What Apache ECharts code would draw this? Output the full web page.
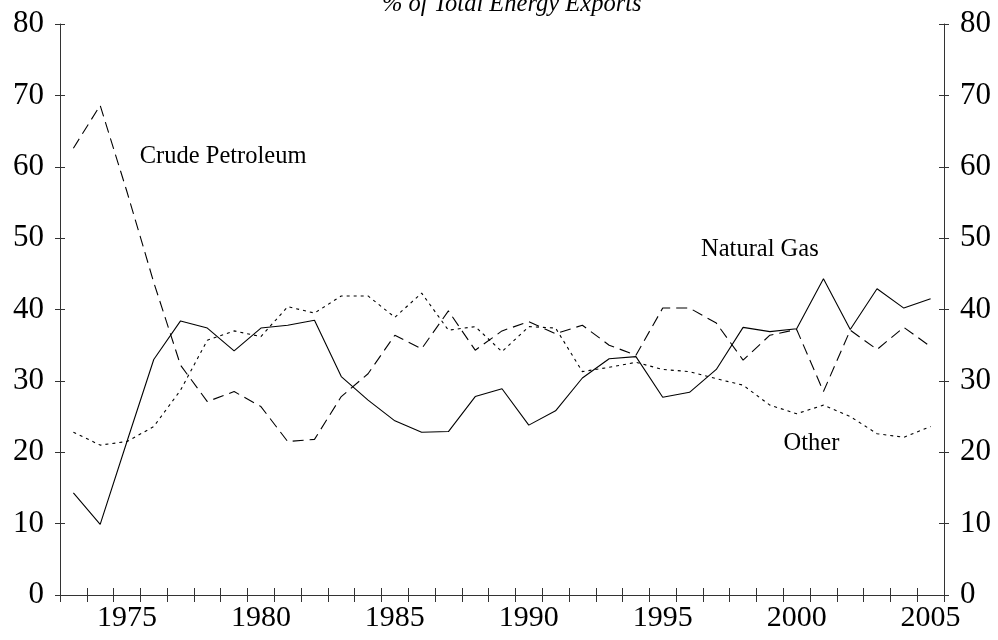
<!DOCTYPE html>
<html>
<head>
<meta charset="utf-8">
<script src="https://cdn.jsdelivr.net/npm/echarts@6/dist/echarts.min.js"></script>
<style>html,body{margin:0;padding:0;background:#fff}#c{width:998px;height:640px}</style>
</head>
<body>
<div id="c"></div>
<script>
var years = [];
for (var y = 1973; y <= 2005; y++) years.push(String(y));

var naturalGas = [14.3, 9.9, 21.5, 33.0, 38.4, 37.4, 34.2, 37.4, 37.8, 38.5, 30.6, 27.3, 24.4,
  22.8, 22.9, 27.8, 28.9, 23.8, 25.8, 30.4, 33.1, 33.4, 27.7,
  28.4, 31.6, 37.5, 36.9, 37.3, 44.3, 37.2, 42.9, 40.2, 41.5];
var crudePetroleum = [62.6, 68.6, 56.5, 43.8, 32.2, 27.1, 28.5, 26.4, 21.5, 21.8, 27.8, 31.0, 36.4,
  34.5, 39.8, 34.3, 37.0, 38.3, 36.6, 37.8, 35.0, 33.6, 40.2,
  40.2, 38.1, 32.9, 36.4, 37.2, 28.5, 37.1, 34.4, 37.5, 34.8];
var other = [22.8, 21.0, 21.5, 23.6, 28.7, 35.7, 37.0, 36.2, 40.4, 39.5, 41.9, 41.9, 38.9,
  42.3, 37.1, 37.6, 34.1, 37.6, 37.4, 31.3, 31.9, 32.6, 31.6,
  31.3, 30.3, 29.4, 26.6, 25.4, 26.6, 25.0, 22.6, 22.1, 23.6];

var titleText = '% of Total Energy Exports';
var annotations = [
  {name: 'Crude Petroleum', year: '1979', value: 61.4, dx: -11},
  {name: 'Natural Gas', year: '1999', value: 48.4, dx: -10},
  {name: 'Other', year: '2001', value: 21.2, dx: -12}
];

var FONT = "'Liberation Serif', 'Times New Roman', serif";
var axisColor = '#333';

function yAx(pos, main, inside) {
  return {
    type: 'value', position: pos, min: 0, max: 80, interval: 10,
    axisLine: {show: main, lineStyle: {color: axisColor, width: 1}},
    axisTick: {show: true, inside: inside, length: 5, lineStyle: {color: axisColor, width: 1}},
    axisLabel: {show: main, margin: 16, fontFamily: FONT, fontSize: 31, color: '#000'},
    splitLine: {show: false}
  };
}
function xAx(main, inside) {
  return {
    type: 'category', position: 'bottom', data: years, boundaryGap: true,
    axisLine: {show: main, onZero: false, lineStyle: {color: axisColor, width: 1}},
    axisTick: {show: true, inside: inside, length: 7, interval: 0, lineStyle: {color: axisColor, width: 1}},
    axisLabel: {show: main, margin: 8, fontFamily: FONT, fontSize: 30, color: '#000',
      interval: function (i, v) { return Number(v) % 5 === 0; }},
    splitLine: {show: false}
  };
}

var chart = echarts.init(document.getElementById('c'), null, {renderer: 'canvas'});
chart.setOption({
  backgroundColor: '#fff',
  animation: false,
  title: {
    text: titleText, left: 377, top: -13,
    textStyle: {fontFamily: FONT, fontStyle: 'italic', fontWeight: 'normal', fontSize: 24.5, color: '#000'}
  },
  grid: {left: 60, right: 54, top: 24, bottom: 45, containLabel: false},
  xAxis: [xAx(true, false), xAx(false, true)],
  yAxis: [yAx('left', true, false), yAx('right', true, false), yAx('left', false, true), yAx('right', false, true)],
  series: [
    {
      name: 'Natural Gas', type: 'line', data: naturalGas, showSymbol: false, symbol: 'none',
      lineStyle: {color: '#000', width: 1.1, type: 'solid'},
      markPoint: {
        symbol: 'circle', symbolSize: 0,
        label: {show: true, position: 'inside', fontFamily: FONT, fontSize: 24.5, color: '#000', formatter: '{b}'},
        data: annotations.map(function (a) {
          return {name: a.name, coord: [a.year, a.value], label: {offset: [a.dx, 0]}};
        })
      }
    },
    {
      name: 'Crude Petroleum', type: 'line', data: crudePetroleum, showSymbol: false, symbol: 'none',
      lineStyle: {color: '#000', width: 1.1, type: [11, 6]}
    },
    {
      name: 'Other', type: 'line', data: other, showSymbol: false, symbol: 'none',
      lineStyle: {color: '#000', width: 1.1, type: [3, 4]}
    }
  ]
});
</script>
</body>
</html>
